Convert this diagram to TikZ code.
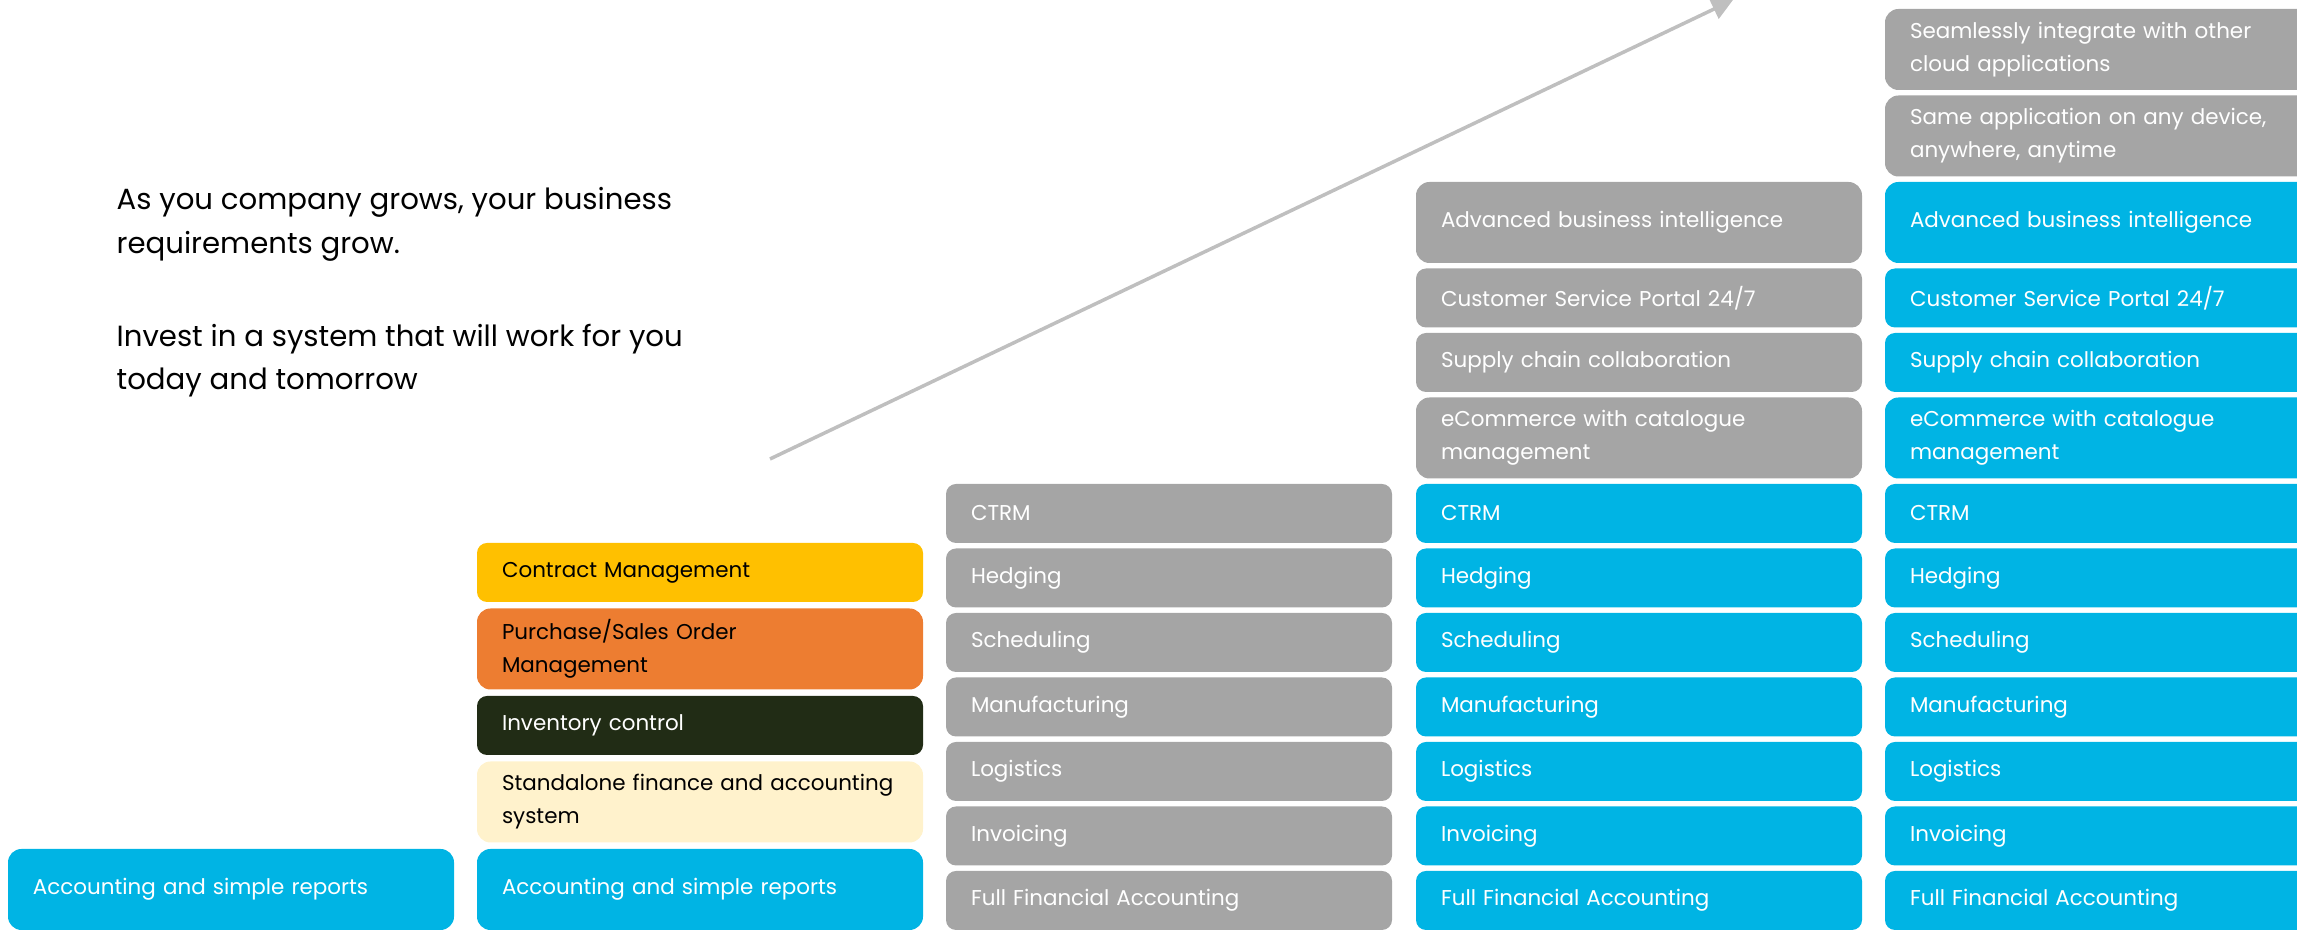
\documentclass[tikz,border=0pt]{standalone}
\usepackage{fontspec}
\setmainfont{Poppins}
\usetikzlibrary{positioning,arrows.meta}

\definecolor{cloudblue}{HTML}{00B4E4}
\definecolor{modgrey}{HTML}{A5A5A5}
\definecolor{contractyellow}{HTML}{FFC000}
\definecolor{orderorange}{HTML}{ED7D31}
\definecolor{inventorydark}{HTML}{212C15}
\definecolor{financecream}{HTML}{FFF2CC}
\definecolor{arrowgrey}{HTML}{BFBFBF}

\tikzset{
  mod/.style={rectangle, rounded corners=0.1cm, inner xsep=0.25cm, inner ysep=0pt,
    outer sep=0pt, text width=3.96cm, minimum height=0.59cm, align=left, text=white,
    font=\fontsize{6.1}{9.4}\selectfont},
  tall/.style={minimum height=0.81cm, rounded corners=0.135cm},
  cyanmod/.style={mod, fill=cloudblue},
  greymod/.style={mod, fill=modgrey},
}

\begin{document}
\begin{tikzpicture}
  \useasboundingbox (0,0) rectangle (22.97,9.30);
  \clip (0,0) rectangle (22.97,9.30);

  %% message on the left
  \node [anchor=north west, inner sep=0pt, align=left,
         font=\fontsize{8.3}{12.4}\selectfont] (message) at (1.16,7.43)
    {As you company grows, your business\\requirements grow.\\[14pt]%
     Invest in a system that will work for you\\today and tomorrow};

  %% first step: only accounting
  \node [cyanmod, tall, anchor=south west] (acc1) at (0.08,0) {Accounting and simple reports};

  %% second step: standalone modules
  \node [cyanmod, tall, anchor=south west] (acc2) at (4.77,0) {Accounting and simple reports};
  \node [mod, tall, fill=financecream, text=black, above=0.065cm of acc2] (finance)
    {Standalone finance and accounting\\system};
  \node [mod, fill=inventorydark, above=0.065cm of finance] (inventory) {Inventory control};
  \node [mod, tall, fill=orderorange, text=black, above=0.065cm of inventory] (orders)
    {Purchase/Sales Order\\Management};
  \node [mod, fill=contractyellow, text=black, above=0.065cm of orders] (contract) {Contract Management};

  %% third step: the ERP modules, still grey
  \node [greymod, anchor=south west] (full3) at (9.46,0) {Full Financial Accounting};
  \node [greymod, above=0.055cm of full3] (inv3) {Invoicing};
  \node [greymod, above=0.055cm of inv3] (log3) {Logistics};
  \node [greymod, above=0.055cm of log3] (man3) {Manufacturing};
  \node [greymod, above=0.055cm of man3] (sch3) {Scheduling};
  \node [greymod, above=0.055cm of sch3] (hed3) {Hedging};
  \node [greymod, above=0.055cm of hed3] (ctrm3) {CTRM};

  %% fourth step
  \node [cyanmod, anchor=south west] (full4) at (14.16,0) {Full Financial Accounting};
  \node [cyanmod, above=0.055cm of full4] (inv4) {Invoicing};
  \node [cyanmod, above=0.055cm of inv4] (log4) {Logistics};
  \node [cyanmod, above=0.055cm of log4] (man4) {Manufacturing};
  \node [cyanmod, above=0.055cm of man4] (sch4) {Scheduling};
  \node [cyanmod, above=0.055cm of sch4] (hed4) {Hedging};
  \node [cyanmod, above=0.055cm of hed4] (ctrm4) {CTRM};
  \node [greymod, tall, above=0.055cm of ctrm4] (ecom4) {eCommerce with catalogue\\management};
  \node [greymod, above=0.055cm of ecom4] (supply4) {Supply chain collaboration};
  \node [greymod, above=0.055cm of supply4] (portal4) {Customer Service Portal 24/7};
  \node [greymod, tall, above=0.055cm of portal4] (bi4) {Advanced business intelligence};

  %% fifth step: everything, plus the cloud
  \node [cyanmod, anchor=south west] (full5) at (18.85,0) {Full Financial Accounting};
  \node [cyanmod, above=0.055cm of full5] (inv5) {Invoicing};
  \node [cyanmod, above=0.055cm of inv5] (log5) {Logistics};
  \node [cyanmod, above=0.055cm of log5] (man5) {Manufacturing};
  \node [cyanmod, above=0.055cm of man5] (sch5) {Scheduling};
  \node [cyanmod, above=0.055cm of sch5] (hed5) {Hedging};
  \node [cyanmod, above=0.055cm of hed5] (ctrm5) {CTRM};
  \node [cyanmod, tall, above=0.055cm of ctrm5] (ecom5) {eCommerce with catalogue\\management};
  \node [cyanmod, above=0.055cm of ecom5] (supply5) {Supply chain collaboration};
  \node [cyanmod, above=0.055cm of supply5] (portal5) {Customer Service Portal 24/7};
  \node [cyanmod, tall, above=0.055cm of portal5] (bi5) {Advanced business intelligence};
  \node [greymod, tall, above=0.055cm of bi5] (device5) {Same application on any device,\\anywhere, anytime};
  \node [greymod, tall, above=0.055cm of device5] (cloud5) {Seamlessly integrate with other\\cloud applications};

  %% growth arrow
  \coordinate (growth start) at (7.70,4.71);
  \coordinate (growth end) at (17.33,9.30);
  \draw [arrowgrey, line width=1pt, -{Triangle[length=6pt,width=6pt]}] (growth start) -- (growth end);
\end{tikzpicture}
\end{document}
